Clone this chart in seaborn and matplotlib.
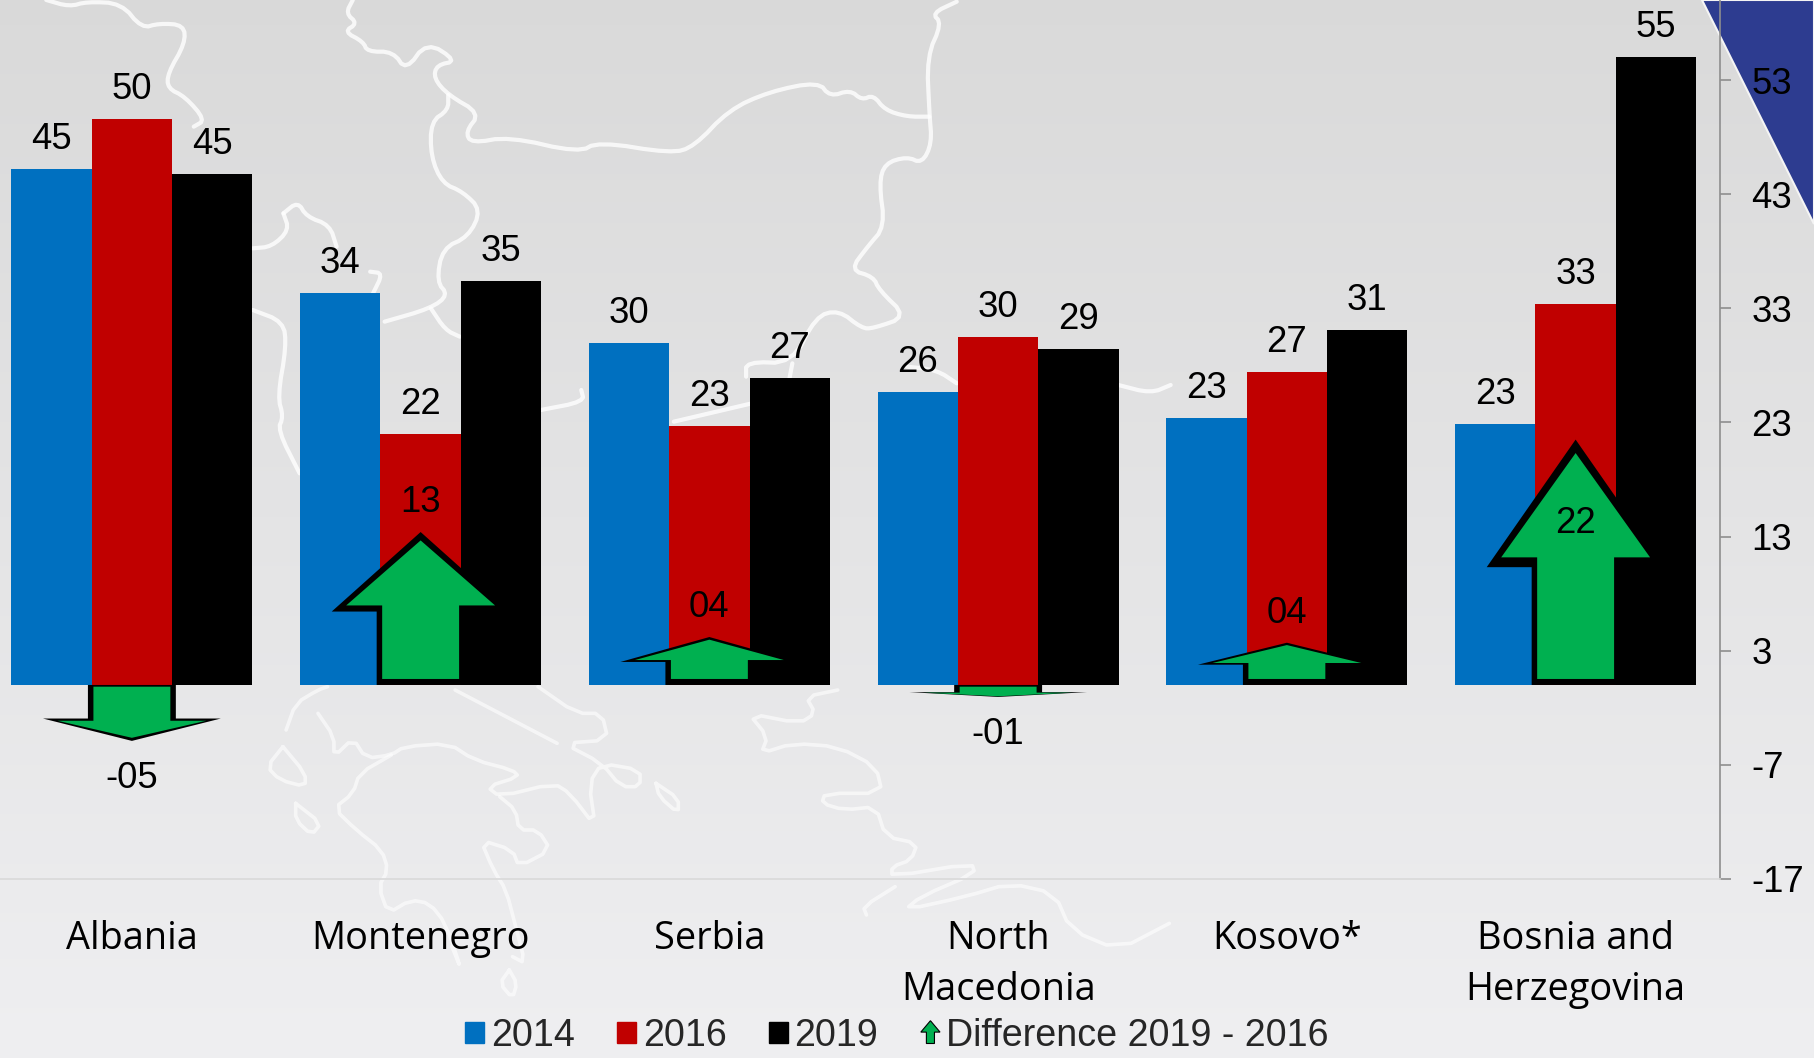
import numpy as np
import pandas as pd
import matplotlib
matplotlib.use("Agg")
import matplotlib.pyplot as plt
from matplotlib.patches import Polygon, Patch
from matplotlib.legend_handler import HandlerPatch
import seaborn as sns

# ---------- data ----------
countries = ["Albania", "Montenegro", "Serbia", "North\nMacedonia", "Kosovo*", "Bosnia and\nHerzegovina"]
years = ["2014", "2016", "2019"]
values_2014 = [45.2, 34.3, 30.0, 25.7, 23.4, 22.9]
values_2016 = [49.6, 22.0, 22.7, 30.5, 27.4, 33.4]
values_2019 = [44.8, 35.4, 26.9, 29.4, 31.1, 55.0]
diff_labels = ["-05", "13", "04", "-01", "04", "22"]
diff_lengths = [-4.9, 13.4, 4.2, -1.05, 3.7, 21.5]
y_ticks = [-17, -7, 3, 13, 23, 33, 43, 53]

# ---------- styling ----------
W, H = 1814, 1058
sns.set_theme(style="white")
plt.rcParams["font.family"] = ["Liberation Sans", "DejaVu Sans"]
BLUE, RED, BLACK, GREEN = "#0070C0", "#C00000", "#000000", "#00B050"
PX_Y = 799 / 70
PX_X = 289.0
BASE_PX = 685
AXIS_PX = 879
RIGHT_PX = 1720
LABEL_FS = 26.3

fig = plt.figure(figsize=(W / 100, H / 100), dpi=100)

# ---------- background art (gradient, map outline, corner triangle) ----------
bg = fig.add_axes([0, 0, 1, 1], zorder=0)
bg.set_xlim(0, W)
bg.set_ylim(H, 0)
bg.axis("off")
grad = np.linspace(0, 1, 256)[:, None]
top_c, bot_c = np.array([0.853, 0.853, 0.853]), np.array([0.937, 0.937, 0.945])
bg.imshow(top_c + (bot_c - top_c) * grad[:, :, None], extent=[0, W, H, 0], aspect="auto", zorder=0)


def z6(pts):
    return [(x / 1.729, y / 3) for x, y in pts]


def z7(pts):
    return [(907 + x / 2.01, y / 3) for x, y in pts]


def z8(pts):
    return [(200 + x / 1.568, 680 + y / 3) for x, y in pts]


def soften(line, rounds=2):
    pts = np.array(line, dtype=float)
    for _ in range(rounds):
        q = 0.75 * pts[:-1] + 0.25 * pts[1:]
        r = 0.25 * pts[:-1] + 0.75 * pts[1:]
        mid = np.empty((2 * len(q), 2))
        mid[0::2], mid[1::2] = q, r
        pts = np.vstack([pts[:1], mid, pts[-1:]])
    return pts


map_upper = [
    z6([(610, 0), (598, 40), (618, 70), (595, 95), (628, 125), (635, 155), (680, 155), (702, 212), (738, 125),
        (790, 183), (755, 195), (750, 235), (775, 285), (830, 340), (805, 395), (815, 430), (880, 410), (1000, 458),
        (1035, 425), (1160, 460), (1200, 440), (1260, 330), (1330, 275), (1415, 245), (1435, 290), (1470, 270),
        (1490, 300), (1510, 285), (1530, 330), (1568, 350)]) + z7([(45, 350)]),
    z7([(100, 5), (50, 40), (70, 70), (40, 170), (45, 340), (50, 430), (30, 490), (0, 470)])
    + z6([(1530, 490), (1520, 550), (1530, 680), (1500, 740), (1470, 810), (1510, 830), (1520, 870), (1568, 950),
          (1510, 985), (1490, 985), (1450, 930), (1410, 950), (1370, 1090), (1290, 1085), (1290, 1130)]),
    z6([(1370, 1090), (1365, 1135)]),
    z6([(775, 285), (775, 330), (745, 365), (745, 470), (765, 550), (800, 575), (832, 630), (810, 710), (765, 745),
        (755, 845), (775, 885), (745, 925), (665, 965)]),
    z6([(745, 925), (770, 990), (795, 1010)]),
    z6([(80, 0), (120, 20), (150, 5), (210, 10), (245, 85), (275, 70), (318, 75), (320, 130), (290, 220), (290, 265),
        (320, 290), (355, 360), (335, 380)]),
    z6([(490, 640), (515, 605), (530, 650), (570, 675), (582, 740)]),
    z6([(490, 640), (500, 690), (470, 740), (437, 745)]),
    z6([(640, 815), (662, 820), (645, 880)]),
    z6([(437, 930), (490, 965), (495, 1040), (480, 1190), (490, 1250), (480, 1290), (518, 1420)]),
    z6([(1165, 1265), (1300, 1210)]),
    z6([(935, 1230), (1010, 1205), (1005, 1170)]),
    z7([(0, 1100), (60, 1110), (100, 1150)]),
    z7([(425, 1155), (490, 1180), (530, 1155)]),
]
map_lower = [
    z8([(135, 150), (150, 70), (185, 30), (200, 20)]),
    z8([(185, 100), (210, 170), (210, 230), (240, 175), (260, 235), (300, 225), (320, 200), (390, 190), (430, 240),
        (490, 270), (500, 290), (450, 320), (470, 350), (555, 310), (580, 340), (620, 440), (610, 310), (630, 250),
        (690, 270), (690, 320), (660, 320), (630, 250), (570, 190), (640, 180), (630, 100), (590, 100), (530, 20)]),
    z8([(300, 225), (250, 280), (240, 340), (210, 385), (245, 450), (285, 510), (295, 570), (280, 620), (295, 700),
        (330, 660), (360, 670), (385, 730), (410, 870), (395, 800)]),
    z8([(130, 200), (105, 260), (125, 300), (165, 320), (165, 280), (130, 200)]),
    z8([(150, 370), (150, 420), (175, 465), (190, 430), (150, 370)]),
    z8([(470, 350), (495, 390), (500, 450), (530, 450), (550, 510), (500, 560), (490, 510), (440, 480), (460, 570),
        (480, 630), (495, 740), (510, 850), (490, 830)]),
    z8([(485, 870), (470, 910), (490, 955), (497, 910), (485, 870)]),
    z8([(715, 310), (720, 350), (750, 400), (750, 355), (715, 310)]),
    z8([(1000, 30), (950, 50), (965, 100), (940, 130), (860, 100), (890, 170), (880, 220), (930, 190), (1000, 200),
        (1060, 260), (1070, 340), (980, 340), (975, 370), (1010, 390), (1060, 380), (1075, 470), (1125, 490),
        (1115, 540), (1085, 560), (1085, 590), (1210, 550), (1215, 580), (1130, 650), (1105, 690), (1200, 650),
        (1270, 610), (1340, 640), (1365, 750), (1440, 810), (1520, 730)]),
    z8([(1045, 705), (1040, 680), (1090, 620)]),
    z8([(400, 30), (440, 70), (500, 130), (530, 160), (560, 190)]),
]
for line in map_upper:
    pts = soften(line)
    bg.plot(pts[:, 0], pts[:, 1], color="white", lw=3.0, alpha=0.8, solid_joinstyle="round", solid_capstyle="round", zorder=1)
for line in map_lower:
    pts = soften(line, 1)
    bg.plot(pts[:, 0], pts[:, 1], color="white", lw=2.6, alpha=0.6, solid_joinstyle="round", solid_capstyle="round", zorder=1)
bg.add_patch(Polygon([(1702, 0), (W, 0), (W, 224)], closed=True, facecolor="#2D3C90", edgecolor="#F4F4F4", lw=1.5, zorder=2))
bg.set_xlim(0, W)
bg.set_ylim(H, 0)

# ---------- main chart ----------
ax = fig.add_axes([0, (H - AXIS_PX) / H, RIGHT_PX / W, AXIS_PX / H], zorder=1)
ax.patch.set_alpha(0)

df = pd.DataFrame({
    "country": countries * 3,
    "year": sum([[y] * len(countries) for y in years], []),
    "value": values_2014 + values_2016 + values_2019,
})
sns.barplot(data=df, x="country", y="value", hue="year", palette=[BLUE, RED, BLACK], width=0.834, gap=0,
            saturation=1, legend=False, linewidth=0, ax=ax, zorder=3)

ax.set_xlim(-132 / PX_X, 5.5)
ax.set_ylim(-17, BASE_PX / PX_Y)
ax.set_xlabel("")
ax.set_ylabel("")

for cont in ax.containers:
    for bar in cont:
        h = bar.get_height()
        ax.annotate(f"{h:.0f}", (bar.get_x() + bar.get_width() / 2, h), xytext=(0, 14.4), textcoords="offset points",
                    ha="center", va="baseline", fontsize=LABEL_FS, color="black", zorder=8)


# ---------- difference arrows ----------
def arrow_points(cx, length, half_head, half_shaft, tail, head_frac, tip_inset, base_inset):
    s = np.sign(length)
    n = abs(length)
    tip = s * (n - tip_inset)
    base = s * (n * (1 - head_frac) + base_inset)
    return [(cx - half_shaft, s * tail), (cx - half_shaft, base), (cx - half_head, base), (cx, tip),
            (cx + half_head, base), (cx + half_shaft, base), (cx + half_shaft, s * tail)]


for i, (d, lab) in enumerate(zip(diff_lengths, diff_labels)):
    n = abs(d)
    up = d > 0
    frac = 0.52 if up else 0.4
    green_tail = 6 / PX_Y if up else 0.15
    ax.add_patch(Polygon(arrow_points(i, d, 89 / PX_X, 44 / PX_X, 0, frac, 0, 0),
                         closed=True, facecolor="black", edgecolor="none", zorder=5))
    ax.add_patch(Polygon(arrow_points(i, d, 74.5 / PX_X, 38.5 / PX_X, green_tail, frac, 0.055 * n, 0.04 * n),
                         closed=True, facecolor=GREEN, edgecolor="none", zorder=6))
    if lab == "22":
        off = -80 * 0.72
    else:
        off = 33.5 * 0.72 if up else -33.5 * 0.72
    ax.annotate(lab, (i, d), xytext=(0, off), textcoords="offset points", ha="center", va="center_baseline",
                fontsize=LABEL_FS, color="black", zorder=8)

# ---------- axes ----------
for side in ["top", "left"]:
    ax.spines[side].set_visible(False)
ax.spines["right"].set_color("#8E8E8E")
ax.spines["right"].set_linewidth(1.2)
ax.spines["bottom"].set_color("#D9D9D9")
ax.spines["bottom"].set_linewidth(1.2)
ax.yaxis.tick_right()
ax.set_yticks(y_ticks)
ax.set_yticklabels([str(t) for t in y_ticks], fontsize=LABEL_FS, color="black")
ax.tick_params(axis="y", length=8, width=1.2, color="#8E8E8E", pad=14.5, right=True, left=False)
ax.set_xticks(range(len(countries)))
ax.set_xticklabels(countries, fontsize=27.3, family="Open Sans", color="black", linespacing=1.45)
ax.tick_params(axis="x", length=0, pad=29.5)

# ---------- legend ----------


class ArrowHandler(HandlerPatch):
    def create_artists(self, legend, orig_handle, xdescent, ydescent, width, height, fontsize, trans):
        w, h = width, height * 1.05
        x0, y0 = -xdescent, -ydescent
        pts = [(x0 + 0.29 * w, y0), (x0 + 0.29 * w, y0 + 0.5 * h), (x0, y0 + 0.5 * h), (x0 + 0.5 * w, y0 + h),
               (x0 + w, y0 + 0.5 * h), (x0 + 0.71 * w, y0 + 0.5 * h), (x0 + 0.71 * w, y0)]
        p = Polygon(pts, closed=True, facecolor=GREEN, edgecolor="black", lw=0.8, transform=trans)
        return [p]


handles = [Patch(color=BLUE), Patch(color=RED), Patch(color=BLACK), Patch(color=GREEN)]
labels = years + ["Difference 2019 - 2016"]
leg = fig.legend(handles, labels, loc="center", bbox_to_anchor=(897 / W, 1 - 1036 / H), ncol=4, frameon=False,
                 fontsize=27.1, handlelength=0.51, handleheight=0.51, handletextpad=0.17, columnspacing=1.13,
                 borderpad=0, borderaxespad=0, handler_map={handles[3]: ArrowHandler()})

fig.savefig("out.png", dpi=100)
